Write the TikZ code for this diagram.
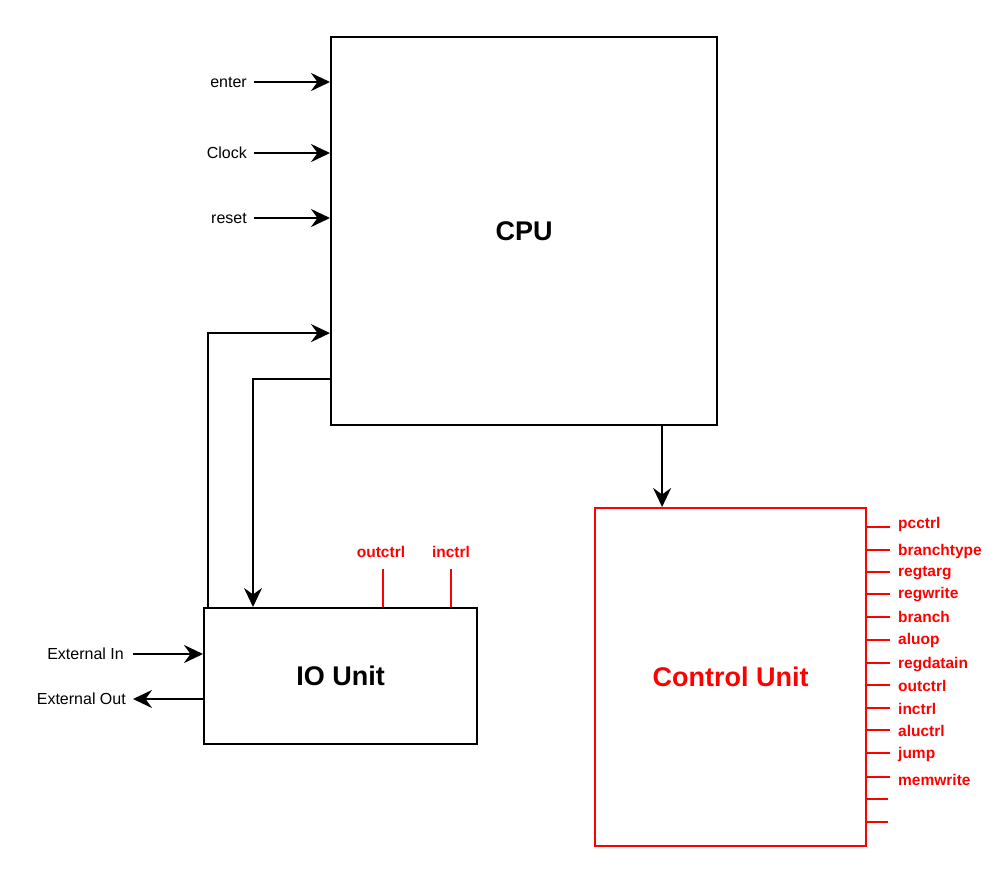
\documentclass[tikz,border=0pt]{standalone}
\usepackage{fontspec}
\setmainfont{Liberation Sans}
\usetikzlibrary{arrows.meta}
\definecolor{sigred}{RGB}{255,0,0}
\tikzset{
  unit/.style={draw, line width=2.2pt, inner sep=0pt, anchor=north west, font=\bfseries\fontsize{27}{30}\selectfont},
  wire/.style={line width=2.4pt, -{Stealth[length=19pt,width=18pt,inset=6.5pt]}},
  sig/.style={sigred, line width=2.2pt},
  inlabel/.style={font=\fontsize{16}{19}\selectfont, inner sep=0pt},
  ctl/.style={text=sigred, font=\bfseries\fontsize{15.5}{17}\selectfont, inner sep=0pt}
}
\begin{document}
\begin{tikzpicture}[x=1pt, y=-1pt]
\useasboundingbox (0,0) rectangle (1001,871);

% main blocks
\node[unit, minimum width=386pt, minimum height=388pt] (cpu) at (330,36) {CPU};
\node[unit, minimum width=273pt, minimum height=136pt] (io) at (203,607) {IO Unit};
\node[unit, draw=sigred, text=sigred, minimum width=271pt, minimum height=338pt] (cu) at (594,507) {Control Unit};

% CPU inputs
\node[inlabel, anchor=east] (enter) at (247,82) {enter};
\node[inlabel, anchor=east] (clock) at (247,153) {Clock};
\node[inlabel, anchor=east] (reset) at (247,218) {reset};
\draw[wire] ([xshift=7pt]enter.east) -- (enter.east -| cpu.west);
\draw[wire] ([xshift=7pt]clock.east) -- (clock.east -| cpu.west);
\draw[wire] ([xshift=7pt]reset.east) -- (reset.east -| cpu.west);

% CPU <-> IO unit
\draw[wire] ([xshift=5pt]io.north west) |- ([yshift=-102pt]cpu.west);
\draw[wire] ([yshift=-148pt]cpu.west) -| ([xshift=50pt]io.north west);

% CPU -> control unit
\draw[wire] ([xshift=138pt]cpu.south) -- ([xshift=138pt]cpu.south |- cu.north);

% IO unit control inputs
\node[ctl] (ioout) at (381,552) {outctrl};
\node[ctl] (ioin) at (451,552) {inctrl};
\draw[sig] ([xshift=2pt,yshift=-11pt]ioout.south) -- ([xshift=2pt]ioout.south |- io.north);
\draw[sig] ([yshift=-11pt]ioin.south) -- (ioin.south |- io.north);

% external IO
\node[inlabel, anchor=east] (extin) at (124,654) {External In};
\node[inlabel, anchor=east] (extout) at (126,699) {External Out};
\draw[wire] ([xshift=9pt]extin.east) -- (extin.east -| io.west);
\draw[wire] (extout.east -| io.west) -- ([xshift=7pt]extout.east);

% control unit outputs
\foreach \ys/\yl/\name [count=\i] in {
  527/524/pcctrl, 550/551/branchtype, 572/573/regtarg, 594/595/regwrite,
  617/617/branch, 640/640/aluop, 663/665/regdatain, 685/686/outctrl,
  708/709/inctrl, 730/731/aluctrl, 753/754/jump, 777/780/memwrite} {
  \node[ctl, anchor=west] (cs\i) at (898,\yl) {\name};
  \draw[sig] (cu.east |- 0,\ys) -- ++(23,0);
}
\coordinate (spare1) at (865,799);
\coordinate (spare2) at (865,822);
\draw[sig] (spare1) -- ++(23,0);
\draw[sig] (spare2) -- ++(23,0);
\end{tikzpicture}
\end{document}
